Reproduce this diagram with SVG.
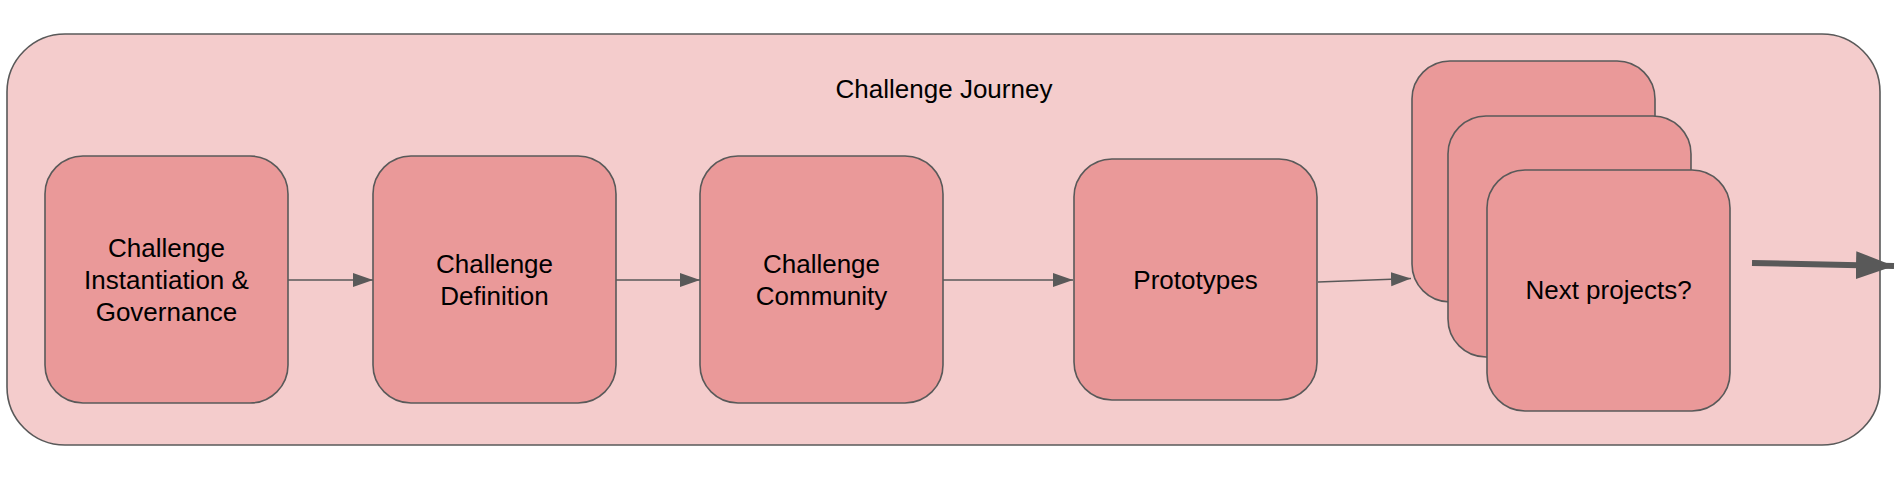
<svg xmlns="http://www.w3.org/2000/svg" width="1904" height="480" viewBox="0 0 1904 480">
<style>
.container{fill:#f4cccc;stroke:#595959;stroke-width:1.6}
.node{fill:#ea9999;stroke:#595959;stroke-width:1.6}
.lbl{font-family:"Liberation Sans",Arial,sans-serif;font-size:26px;fill:#000;text-anchor:middle}
.conn{fill:none;stroke:#595959;stroke-width:1.6}
.big{fill:none;stroke:#595959;stroke-width:6}
</style>
<defs>
<marker id="arr" markerUnits="userSpaceOnUse" markerWidth="22" markerHeight="16" refX="20" refY="7" orient="auto">
<path d="M0,0 L20,7 L0,14 Z" fill="#595959"/>
</marker>
<marker id="arrBig" markerUnits="userSpaceOnUse" markerWidth="40" markerHeight="30" refX="38" refY="14" orient="auto">
<path d="M0,0 L38,14 L0,28 Z" fill="#595959"/>
</marker>
</defs>
<rect id="bg" width="1904" height="480" fill="#ffffff"/>
<g id="challenge-journey">
<rect class="container" x="7" y="34" width="1873" height="411" rx="58" ry="58"/>
<text class="lbl" x="944" y="98">Challenge Journey</text>
</g>
<g id="node-instantiation">
<rect class="node" x="45" y="156" width="243" height="247" rx="38" ry="38"/>
<text class="lbl" x="166.5" y="257">Challenge</text>
<text class="lbl" x="166.5" y="289">Instantiation &amp;</text>
<text class="lbl" x="166.5" y="321">Governance</text>
</g>
<g id="node-definition">
<rect class="node" x="373" y="156" width="243" height="247" rx="38" ry="38"/>
<text class="lbl" x="494.5" y="273">Challenge</text>
<text class="lbl" x="494.5" y="305">Definition</text>
</g>
<g id="node-community">
<rect class="node" x="700" y="156" width="243" height="247" rx="38" ry="38"/>
<text class="lbl" x="821.5" y="273">Challenge</text>
<text class="lbl" x="821.5" y="305">Community</text>
</g>
<g id="node-prototypes">
<rect class="node" x="1074" y="159" width="243" height="241" rx="38" ry="38"/>
<text class="lbl" x="1195.5" y="289">Prototypes</text>
</g>
<g id="node-next-back">
<rect class="node" x="1412" y="61" width="243" height="241" rx="38" ry="38"/>
</g>
<g id="node-next-middle">
<rect class="node" x="1448" y="116" width="243" height="241" rx="38" ry="38"/>
</g>
<g id="node-next-front">
<rect class="node" x="1487" y="170" width="243" height="241" rx="38" ry="38"/>
<text class="lbl" x="1608.5" y="299">Next projects?</text>
</g>
<g id="connectors">
<line class="conn" x1="288" y1="280" x2="373" y2="280" marker-end="url(#arr)"/>
<line class="conn" x1="616" y1="280" x2="700" y2="280" marker-end="url(#arr)"/>
<line class="conn" x1="943" y1="280" x2="1073" y2="280" marker-end="url(#arr)"/>
<line class="conn" x1="1318" y1="282" x2="1411" y2="278.5" marker-end="url(#arr)"/>
<line class="big" x1="1752" y1="263" x2="1894" y2="266" marker-end="url(#arrBig)"/>
</g>
</svg>
